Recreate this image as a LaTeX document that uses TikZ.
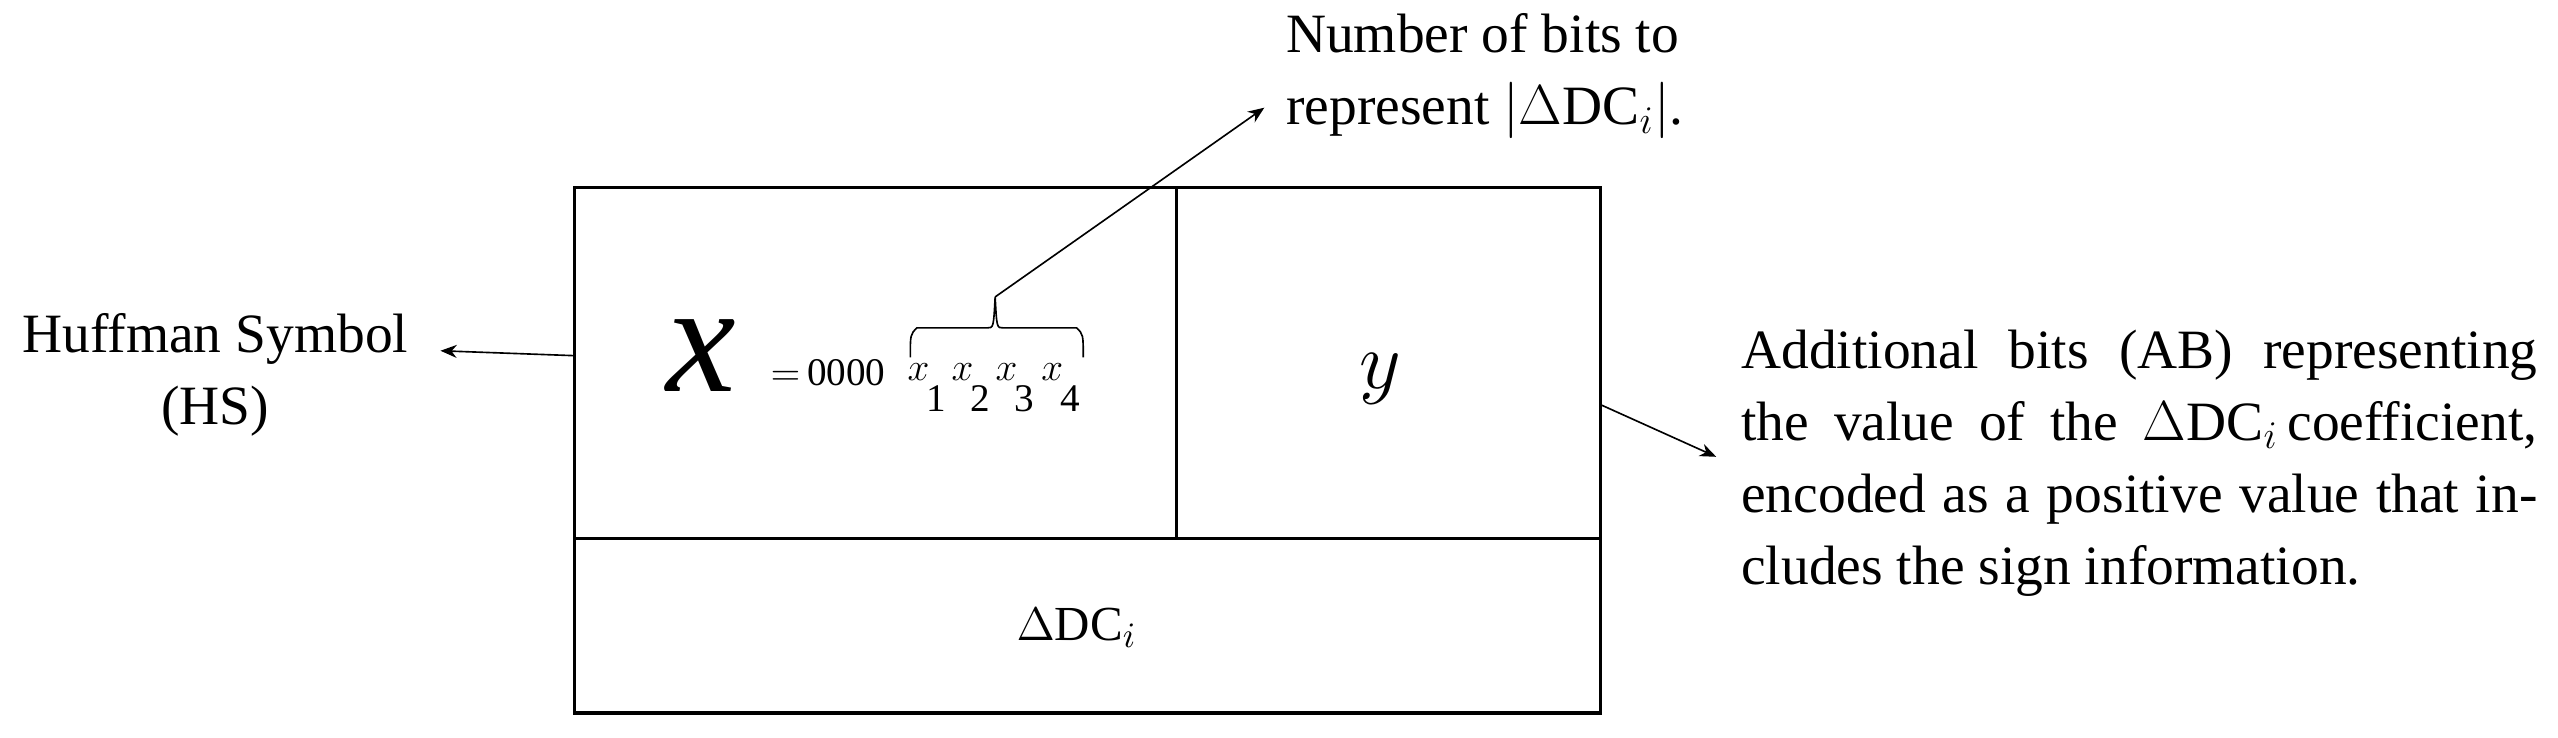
\documentclass[tikz,border=0pt]{standalone}
\usepackage{fontspec}
\setmainfont{Liberation Serif}
\usetikzlibrary{arrows.meta}
\begin{document}
\begin{tikzpicture}[x=0.5pt,y=-0.5pt,
  lbl/.style={font=\fontsize{17}{22}\selectfont, inner sep=0pt},
  arr/.style={-{Stealth[length=5pt,width=4pt]}, line width=0.5pt},
  box/.style={draw, line width=1pt}]
\useasboundingbox (0,0) rectangle (1568,452);
\draw[box] (352,115) rectangle (981,437);
\draw[box] (352,330) -- (981,330);
\draw[box] (721,115) -- (721,330);
\node[inner sep=0pt] (bx) at (430,218) {\fontsize{48}{52}\selectfont$\mathbf{\mathit{x}}$};
\node[inner sep=0pt,anchor=base west] (eq) at (472,236) {\fontsize{12}{14}\selectfont$=$\,0000};
\foreach \px [count=\i] in {563,590,617,645}{
  \node[inner sep=0pt,anchor=base] (xs\i) at (\px,233) {\fontsize{13}{15}\selectfont$x$};
  \node[inner sep=0pt,anchor=base] (ds\i) at (\px+11,252) {\fontsize{12}{14}\selectfont \i};
}
\coordinate (tip) at (610,182);
\draw[line width=0.5pt] (558,219) .. controls (558,205) .. (562,201) -- (605,201)
  .. controls (609,201) .. (610,182) .. controls (611,201) .. (615,201) -- (660,201)
  .. controls (664,205) .. (664,219);
\node[inner sep=0pt] (y) at (846,232) {\fontsize{24}{28}\selectfont$y$};
\node[inner sep=0pt] (dc) at (660,385) {\fontsize{15}{18}\selectfont$\Delta\mathrm{DC}_i$};
\node[lbl,align=center] (hs) at (132,230) {Huffman Symbol\\(HS)};
\node[lbl,align=left,anchor=north west] (nb) at (788,8) {Number of bits to\\represent $|\Delta\mathrm{DC}_i|$.};
\node[lbl,anchor=north west,text width=244pt,align=justify] (ab) at (1067,202)
  {\hyphenpenalty=10000 Additional bits (AB) representing the value of the $\Delta\mathrm{DC}_i$\,coefficient, encoded as a positive value that includes the sign information.};
\coordinate (hsL) at (352,218);
\coordinate (hsE) at (270,215);
\draw[arr] (hsL) -- (hsE);
\coordinate (abS) at (981,248);
\coordinate (abE) at (1052,280);
\draw[arr] (abS) -- (abE);
\coordinate (nbE) at (775,66);
\draw[arr] (tip) -- (nbE);
\end{tikzpicture}
\end{document}
